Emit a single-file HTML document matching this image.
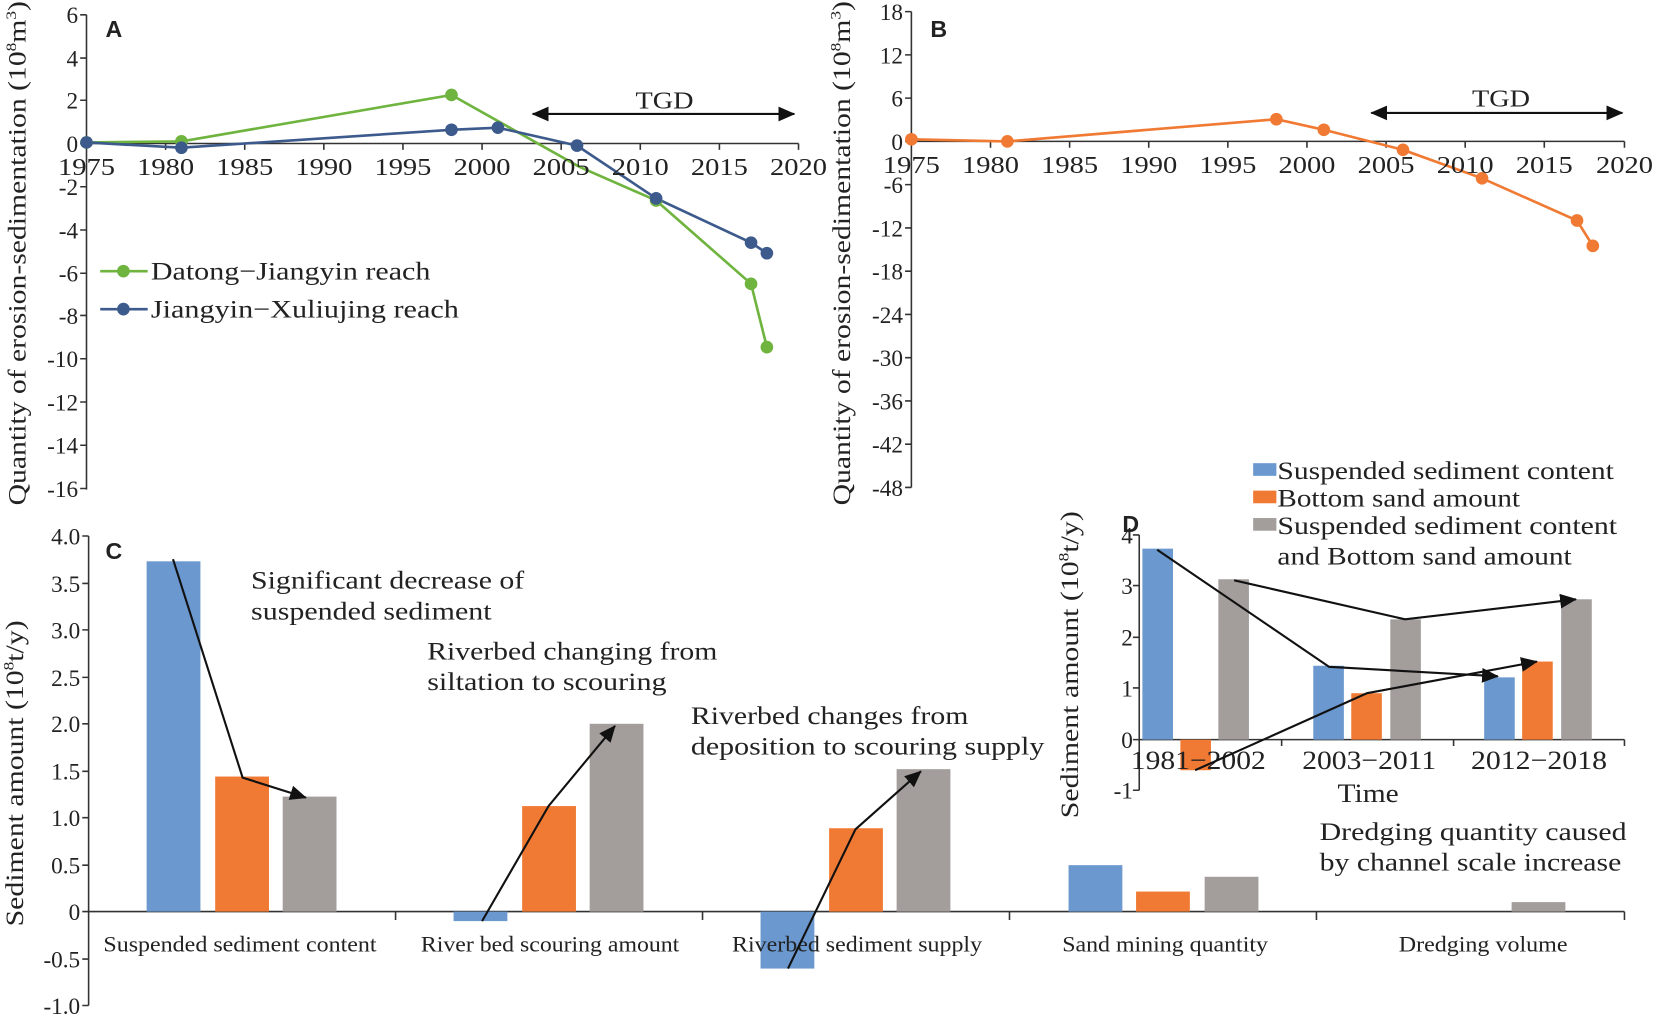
<!DOCTYPE html>
<html><head><meta charset="utf-8"><style>body{margin:0;background:#fff}svg{display:block}text{font-family:"Liberation Serif",serif;fill:#222}.s{font-family:"Liberation Sans",sans-serif;font-weight:bold;font-size:22px}</style></head><body>
<svg width="1654" height="1015" viewBox="0 0 1568 962" preserveAspectRatio="none" xmlns="http://www.w3.org/2000/svg">
<defs>
<marker id="al" markerWidth="16" markerHeight="14" refX="15" refY="7" orient="auto" markerUnits="userSpaceOnUse"><path d="M0,0L16,7L0,14z" fill="#111"/></marker>
<marker id="al2" markerWidth="16" markerHeight="14" refX="1" refY="7" orient="auto" markerUnits="userSpaceOnUse"><path d="M16,0L0,7L16,14z" fill="#111"/></marker></defs>
<g stroke="#333" stroke-width="1.5" fill="none">
<path d="M82,14V464M82,136H757"/>
<path d="M76,14H82M76,55H82M76,95H82M76,136H82M76,177H82M76,218H82M76,259H82M76,299H82M76,340H82M76,381H82M76,422H82M76,463H82"/>
<path d="M157,136v6M232,136v6M307,136v6M382,136v6M457,136v6M532,136v6M607,136v6M682,136v6M757,136v6"/>
<path d="M864,11V462M864,134H1540"/>
<path d="M858,11H864M858,52H864M858,93H864M858,134H864M858,175H864M858,216H864M858,257H864M858,298H864M858,339H864M858,380H864M858,421H864M858,462H864"/>
<path d="M939,134v6M1014,134v6M1089,134v6M1164,134v6M1239,134v6M1314,134v6M1389,134v6M1464,134v6M1540,134v6"/>
<path d="M84,508V953M84,864H1540"/>
<path d="M78,508H84M78,553H84M78,597H84M78,642H84M78,686H84M78,731H84M78,775H84M78,820H84M78,864H84M78,909H84M78,953H84"/>
<path d="M375,864v8M666,864v8M957,864v8M1248,864v8M1540,864v8"/>
<path d="M1080,507V749M1080,701H1540"/>
<path d="M1074,507H1080M1074,555H1080M1074,604H1080M1074,652H1080M1074,701H1080M1074,749H1080"/>
<path d="M1215,701v6M1378,701v6M1540,701v6"/>
</g>
<!-- A series -->
<polyline points="82,135 172,134 428,90 549,158 622,190 712,269 727,329" fill="none" stroke="#6fb43f" stroke-width="2.5"/>
<polyline points="82,135 172,140 428,123 472,121 547,138 622,188 712,230 727,240" fill="none" stroke="#3d5a8c" stroke-width="2.5"/>
<g fill="#6fb43f"><circle cx="82" cy="135" r="6"/><circle cx="172" cy="134" r="6"/><circle cx="428" cy="90" r="6"/><circle cx="622" cy="190" r="6"/><circle cx="712" cy="269" r="6"/><circle cx="727" cy="329" r="6"/></g>
<g fill="#3d5a8c"><circle cx="82" cy="135" r="6"/><circle cx="172" cy="140" r="6"/><circle cx="428" cy="123" r="6"/><circle cx="472" cy="121" r="6"/><circle cx="547" cy="138" r="6"/><circle cx="622" cy="188" r="6"/><circle cx="712" cy="230" r="6"/><circle cx="727" cy="240" r="6"/></g>
<line x1="95" y1="257" x2="140" y2="257" stroke="#6fb43f" stroke-width="2.5"/><circle cx="117" cy="257" r="6" fill="#6fb43f"/>
<line x1="95" y1="293" x2="140" y2="293" stroke="#3d5a8c" stroke-width="2.5"/><circle cx="117" cy="293" r="6" fill="#3d5a8c"/>
<!-- B series -->
<polyline points="864,132 955,134 1210,113 1255,123 1330,142 1405,169 1495,209 1510,233" fill="none" stroke="#f07a33" stroke-width="2.5"/>
<g fill="#f07a33"><circle cx="864" cy="132" r="6"/><circle cx="955" cy="134" r="6"/><circle cx="1210" cy="113" r="6"/><circle cx="1255" cy="123" r="6"/><circle cx="1330" cy="142" r="6"/><circle cx="1405" cy="169" r="6"/><circle cx="1495" cy="209" r="6"/><circle cx="1510" cy="233" r="6"/></g>
<!-- C bars -->
<g fill="#6a98cf"><rect x="139" y="532" width="51" height="332"/><rect x="430" y="864" width="51" height="9"/><rect x="721" y="864" width="51" height="54"/><rect x="1013" y="820" width="51" height="44"/></g>
<g fill="#f07a33"><rect x="204" y="736" width="51" height="128"/><rect x="495" y="764" width="51" height="100"/><rect x="786" y="785" width="51" height="79"/><rect x="1077" y="845" width="51" height="19"/></g>
<g fill="#a39e9c"><rect x="268" y="755" width="51" height="109"/><rect x="559" y="686" width="51" height="178"/><rect x="850" y="729" width="51" height="135"/><rect x="1142" y="831" width="51" height="33"/><rect x="1433" y="855" width="51" height="9"/></g>
<!-- D bars -->
<g fill="#6a98cf"><rect x="1083" y="520" width="29" height="181"/><rect x="1245" y="631" width="29" height="70"/><rect x="1407" y="642" width="29" height="59"/></g>
<g fill="#f07a33"><rect x="1119" y="701" width="29" height="29"/><rect x="1281" y="657" width="29" height="44"/><rect x="1443" y="627" width="29" height="74"/></g>
<g fill="#a39e9c"><rect x="1155" y="549" width="29" height="152"/><rect x="1318" y="587" width="29" height="114"/><rect x="1480" y="568" width="29" height="133"/></g>
<rect x="1188" y="439" width="22" height="12" fill="#6a98cf"/><rect x="1188" y="465" width="22" height="12" fill="#f07a33"/><rect x="1188" y="491" width="22" height="12" fill="#a39e9c"/>
<!-- texts -->
<g font-size="22" text-anchor="end">
<text x="74" y="22">6</text><text x="74" y="63">4</text><text x="74" y="103">2</text><text x="74" y="144">0</text><text x="74" y="185">-2</text><text x="74" y="226">-4</text><text x="74" y="267">-6</text><text x="74" y="307">-8</text><text x="74" y="348">-10</text><text x="74" y="389">-12</text><text x="74" y="430">-14</text><text x="74" y="471">-16</text>
<text x="856" y="19">18</text><text x="856" y="60">12</text><text x="856" y="101">6</text><text x="856" y="142">0</text><text x="856" y="183">-6</text><text x="856" y="224">-12</text><text x="856" y="265">-18</text><text x="856" y="306">-24</text><text x="856" y="347">-30</text><text x="856" y="388">-36</text><text x="856" y="429">-42</text><text x="856" y="470">-48</text>
<text x="76" y="516">4.0</text><text x="76" y="561">3.5</text><text x="76" y="605">3.0</text><text x="76" y="650">2.5</text><text x="76" y="694">2.0</text><text x="76" y="739">1.5</text><text x="76" y="783">1.0</text><text x="76" y="828">0.5</text><text x="76" y="872">0</text><text x="76" y="917">-0.5</text><text x="76" y="961">-1.0</text>
<text x="1074" y="515">4</text><text x="1074" y="563">3</text><text x="1074" y="612">2</text><text x="1074" y="660">1</text><text x="1074" y="709">0</text><text x="1074" y="757">-1</text>
</g>
<g font-size="23" text-anchor="middle" lengthAdjust="spacingAndGlyphs">
<text x="82" y="166" textLength="54" lengthAdjust="spacingAndGlyphs">1975</text><text x="157" y="166" textLength="54" lengthAdjust="spacingAndGlyphs">1980</text><text x="232" y="166" textLength="54" lengthAdjust="spacingAndGlyphs">1985</text><text x="307" y="166" textLength="54" lengthAdjust="spacingAndGlyphs">1990</text><text x="382" y="166" textLength="54" lengthAdjust="spacingAndGlyphs">1995</text><text x="457" y="166" textLength="54" lengthAdjust="spacingAndGlyphs">2000</text><text x="532" y="166" textLength="54" lengthAdjust="spacingAndGlyphs">2005</text><text x="607" y="166" textLength="54" lengthAdjust="spacingAndGlyphs">2010</text><text x="682" y="166" textLength="54" lengthAdjust="spacingAndGlyphs">2015</text><text x="757" y="166" textLength="54" lengthAdjust="spacingAndGlyphs">2020</text>
<text x="864" y="164" textLength="54" lengthAdjust="spacingAndGlyphs">1975</text><text x="939" y="164" textLength="54" lengthAdjust="spacingAndGlyphs">1980</text><text x="1014" y="164" textLength="54" lengthAdjust="spacingAndGlyphs">1985</text><text x="1089" y="164" textLength="54" lengthAdjust="spacingAndGlyphs">1990</text><text x="1164" y="164" textLength="54" lengthAdjust="spacingAndGlyphs">1995</text><text x="1239" y="164" textLength="54" lengthAdjust="spacingAndGlyphs">2000</text><text x="1314" y="164" textLength="54" lengthAdjust="spacingAndGlyphs">2005</text><text x="1389" y="164" textLength="54" lengthAdjust="spacingAndGlyphs">2010</text><text x="1464" y="164" textLength="54" lengthAdjust="spacingAndGlyphs">2015</text><text x="1540" y="164" textLength="54" lengthAdjust="spacingAndGlyphs">2020</text>
<text x="630" y="103" textLength="55" lengthAdjust="spacingAndGlyphs">TGD</text><text x="1423" y="101" textLength="55" lengthAdjust="spacingAndGlyphs">TGD</text>
<text x="1136" y="729" font-size="25" textLength="128" lengthAdjust="spacingAndGlyphs">1981−2002</text><text x="1298" y="729" font-size="25" textLength="127" lengthAdjust="spacingAndGlyphs">2003−2011</text><text x="1459" y="729" font-size="25" textLength="129" lengthAdjust="spacingAndGlyphs">2012−2018</text><text x="1297" y="760" font-size="25" textLength="58" lengthAdjust="spacingAndGlyphs">Time</text>
</g>
<g font-size="21">
<text x="98" y="902" textLength="259" lengthAdjust="spacingAndGlyphs">Suspended sediment content</text><text x="399" y="902" textLength="245" lengthAdjust="spacingAndGlyphs">River bed scouring amount</text><text x="694" y="902" textLength="237" lengthAdjust="spacingAndGlyphs">Riverbed sediment supply</text><text x="1007" y="902" textLength="195" lengthAdjust="spacingAndGlyphs">Sand mining quantity</text><text x="1326" y="902" textLength="160" lengthAdjust="spacingAndGlyphs">Dredging volume</text>
</g>
<text transform="translate(24,240) rotate(-90)" font-size="24" text-anchor="middle" textLength="478" lengthAdjust="spacingAndGlyphs">Quantity of erosion-sedimentation (10<tspan font-size="14" dy="-9">8</tspan><tspan dy="9">m</tspan><tspan font-size="14" dy="-9">3</tspan><tspan dy="9">)</tspan></text>
<text transform="translate(806,240) rotate(-90)" font-size="24" text-anchor="middle" textLength="478" lengthAdjust="spacingAndGlyphs">Quantity of erosion-sedimentation (10<tspan font-size="14" dy="-9">8</tspan><tspan dy="9">m</tspan><tspan font-size="14" dy="-9">3</tspan><tspan dy="9">)</tspan></text>
<text transform="translate(22,733) rotate(-90)" font-size="24" text-anchor="middle" textLength="290" lengthAdjust="spacingAndGlyphs">Sediment amount (10<tspan font-size="14" dy="-9">8</tspan><tspan dy="9">t/y)</tspan></text>
<text transform="translate(1022,630) rotate(-90)" font-size="24" text-anchor="middle" textLength="291" lengthAdjust="spacingAndGlyphs">Sediment amount (10<tspan font-size="14" dy="-9">8</tspan><tspan dy="9">t/y)</tspan></text>
<text class="s" x="100" y="35">A</text><text class="s" x="882" y="35">B</text><text class="s" x="100" y="530">C</text><text class="s" x="1064" y="504">D</text>
<g font-size="24">
<text x="143" y="265" textLength="265" lengthAdjust="spacingAndGlyphs">Datong−Jiangyin reach</text><text x="143" y="301" textLength="292" lengthAdjust="spacingAndGlyphs">Jiangyin−Xuliujing reach</text>
<text x="238" y="558" textLength="259" lengthAdjust="spacingAndGlyphs">Significant decrease of</text><text x="238" y="587" textLength="228" lengthAdjust="spacingAndGlyphs">suspended sediment</text>
<text x="405" y="625" textLength="275" lengthAdjust="spacingAndGlyphs">Riverbed changing from</text><text x="405" y="654" textLength="227" lengthAdjust="spacingAndGlyphs">siltation to scouring</text>
<text x="655" y="686" textLength="263" lengthAdjust="spacingAndGlyphs">Riverbed changes from</text><text x="655" y="715" textLength="335" lengthAdjust="spacingAndGlyphs">deposition to scouring supply</text>
<text x="1251" y="796" textLength="291" lengthAdjust="spacingAndGlyphs">Dredging quantity caused</text><text x="1251" y="825" textLength="286" lengthAdjust="spacingAndGlyphs">by channel scale increase</text>
<text x="1211" y="454" textLength="319" lengthAdjust="spacingAndGlyphs">Suspended sediment content</text><text x="1211" y="480" textLength="230" lengthAdjust="spacingAndGlyphs">Bottom sand amount</text><text x="1211" y="506" textLength="322" lengthAdjust="spacingAndGlyphs">Suspended sediment content</text><text x="1211" y="535" textLength="279" lengthAdjust="spacingAndGlyphs">and Bottom sand amount</text>
</g>
<!-- arrows -->
<line x1="505" y1="108" x2="753" y2="108" stroke="#111" stroke-width="2" marker-end="url(#al)" marker-start="url(#al2)"/>
<line x1="1300" y1="107" x2="1538" y2="107" stroke="#111" stroke-width="2" marker-end="url(#al)" marker-start="url(#al2)"/>
<g fill="none" stroke="#111" stroke-width="2">
<polyline points="164,530 230,737 290,756" marker-end="url(#al)"/>
<polyline points="457,873 520,764 583,688" marker-end="url(#al)"/>
<polyline points="747,918 811,786 873,731" marker-end="url(#al)"/>
<polyline points="1097,521 1260,632 1420,641" marker-end="url(#al)"/>
<polyline points="1170,550 1332,587 1494,568" marker-end="url(#al)"/>
<polyline points="1133,730 1296,657 1457,627" marker-end="url(#al)"/>
</g>
</svg>
</body></html>
